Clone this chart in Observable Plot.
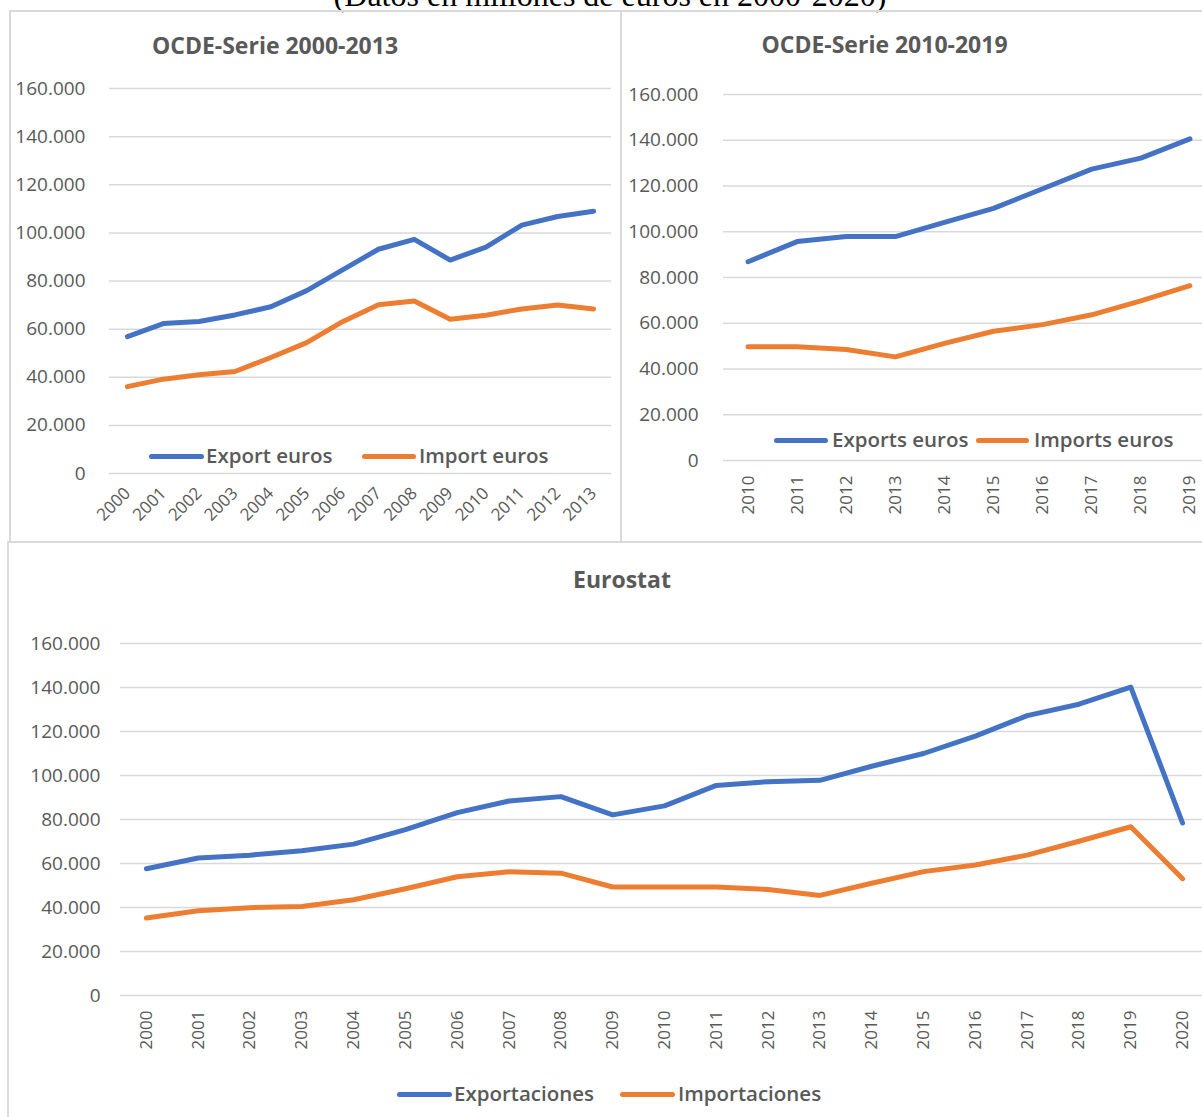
<!DOCTYPE html>
<html><head><meta charset="utf-8">
<script src="https://cdn.jsdelivr.net/npm/d3@7"></script>
<script src="https://cdn.jsdelivr.net/npm/@observablehq/plot@0.6"></script>
<style>
html,body{margin:0;padding:0;background:#fff;overflow:hidden;}
#page{position:relative;width:1202px;height:1117px;overflow:hidden;font-family:"Open Sans",sans-serif;}
.panel{position:absolute;border:2px solid #d9d9d9;box-sizing:border-box;}
.abs{position:absolute;}
.title{position:absolute;font-weight:700;font-size:23px;line-height:30px;color:#595959;transform:translateX(-50%);white-space:nowrap;}
.leg-line{position:absolute;height:5px;border-radius:3px;}
.leg-text{position:absolute;font-size:20.5px;line-height:24px;font-weight:600;color:#595959;white-space:nowrap;}
.heading{position:absolute;font-family:"Liberation Serif","Times New Roman",serif;font-size:32px;line-height:32px;color:#000;white-space:nowrap;transform:translateX(-50%);}
</style></head><body><div id="page"></div>
<script>
// ---- data ----
const heading = "(Datos en millones de euros en 2000-2020)";
const yTicks = [0, 20000, 40000, 60000, 80000, 100000, 120000, 140000, 160000];

const title1 = "OCDE-Serie 2000-2013";
const years1 = [2000, 2001, 2002, 2003, 2004, 2005, 2006, 2007, 2008, 2009, 2010, 2011, 2012, 2013];
const export1 = [56900, 62300, 63200, 65900, 69300, 76000, 84600, 93200, 97300, 88700, 94100, 103200, 106800, 109000];
const import1 = [36100, 39200, 41000, 42400, 48200, 54400, 63100, 70100, 71700, 64100, 65800, 68400, 70000, 68400];
const names1 = ["Export euros", "Import euros"];

const title2 = "OCDE-Serie 2010-2019";
const years2 = [2010, 2011, 2012, 2013, 2014, 2015, 2016, 2017, 2018, 2019];
const export2 = [86900, 95700, 97900, 97900, 104100, 110200, 118800, 127400, 132200, 140600];
const import2 = [49700, 49700, 48500, 45300, 51200, 56500, 59400, 63700, 69800, 76400];
const names2 = ["Exports euros", "Imports euros"];

const title3 = "Eurostat";
const years3 = [2000, 2001, 2002, 2003, 2004, 2005, 2006, 2007, 2008, 2009, 2010, 2011, 2012, 2013, 2014, 2015, 2016, 2017, 2018, 2019, 2020];
const export3 = [57600, 62500, 63800, 65800, 68800, 75400, 83100, 88400, 90400, 82100, 86200, 95500, 97200, 97800, 104200, 110000, 117900, 127200, 132400, 140200, 78400];
const import3 = [35200, 38500, 39900, 40500, 43500, 48500, 54000, 56300, 55600, 49300, 49300, 49300, 48200, 45500, 51000, 56300, 59300, 63800, 70100, 76700, 53100];
const names3 = ["Exportaciones", "Importaciones"];

const colors = ["#4472C4", "#ED7D31"];

// ---- helpers ----
const page = document.getElementById("page");
const fmt = d => d3.format(",")(d).replace(/,/g, ".");

function el(cls, css, text) {
  const e = document.createElement("div");
  e.className = cls;
  Object.assign(e.style, css);
  if (text != null) e.textContent = text;
  page.appendChild(e);
  return e;
}

function chart(o) {
  const data = o.years.flatMap((y, i) => [
    {year: String(y), value: o.exp[i], s: o.names[0]},
    {year: String(y), value: o.imp[i], s: o.names[1]}
  ]);
  return Plot.plot({
    width: o.width, height: o.height,
    marginLeft: o.marginLeft, marginRight: 0, marginTop: o.marginTop, marginBottom: o.marginBottom,
    style: {background: "transparent", maxWidth: "none", overflow: "visible", fontFamily: "'Open Sans', sans-serif", color: "#595959"},
    x: {type: "point", domain: o.years.map(String), padding: 0.5, round: false},
    y: {domain: [0, 160000]},
    color: {domain: o.names, range: colors},
    marks: [
      Plot.gridY(yTicks, {stroke: "#d9d9d9", strokeOpacity: 1, strokeWidth: 1.5}),
      Plot.axisY(yTicks, {tickSize: 0, tickPadding: o.padY, tickFormat: fmt, fontSize: 19, fill: "#595959", label: null}),
      Plot.axisX({tickSize: 0, tickRotate: o.rotate, tickPadding: o.padX, fontSize: 17, fill: "#595959", label: null, textAnchor: "end"}),
      Plot.line(data, {x: "year", y: "value", z: "s", stroke: "s", strokeWidth: 5, strokeLinecap: "round", strokeLinejoin: "round"})
    ]
  });
}

function place(svg, left, top) {
  const d = el("abs", {left: left + "px", top: top + "px"});
  d.appendChild(svg);
}

function legend(y, items) {
  items.forEach((it, i) => {
    el("leg-line", {left: it.x1 + "px", width: (it.x2 - it.x1) + "px", top: (y - 2.5) + "px", background: colors[i]});
    el("leg-text", {left: it.tx + "px", top: (y - 12.7) + "px"}, it.label);
  });
}

// ---- heading ----
el("heading", {left: "610px", top: "-21px"}, heading);

// ---- panel frames ----
el("panel", {left: "9px", top: "10px", width: "613px", height: "533px"});
el("panel", {left: "620px", top: "10px", width: "600px", height: "533px"});
el("panel", {left: "7px", top: "541px", width: "1210px", height: "600px"});

// ---- panel 1 ----
place(chart({years: years1, exp: export1, imp: import1, names: names1,
  width: 611, height: 543, marginLeft: 109, marginTop: 88, marginBottom: 70,
  rotate: -45, padX: 17, padY: 24}), 0, 0);
el("title", {left: "275px", top: "29.5px"}, title1);
legend(456, [
  {x1: 149, x2: 204, tx: 206, label: names1[0]},
  {x1: 362, x2: 416, tx: 419, label: names1[1]}
]);

// ---- panel 2 ----
place(chart({years: years2, exp: export2, imp: import2, names: names2,
  width: 594, height: 540, marginLeft: 103, marginTop: 94, marginBottom: 80,
  rotate: -90, padX: 15, padY: 25}), 620, 0);
el("title", {left: "884.5px", top: "28.5px"}, title2);
legend(440, [
  {x1: 774, x2: 828, tx: 832, label: names2[0]},
  {x1: 976, x2: 1029, tx: 1034, label: names2[1]}
]);

// ---- panel 3 ----
place(chart({years: years3, exp: export3, imp: import3, names: names3,
  width: 1208, height: 534, marginLeft: 120, marginTop: 102, marginBottom: 80,
  rotate: -90, padX: 15, padY: 20}), 0, 541);
el("title", {left: "622px", top: "563.5px"}, title3);
legend(1094, [
  {x1: 397, x2: 452, tx: 454, label: names3[0]},
  {x1: 620, x2: 675, tx: 678, label: names3[1]}
]);
</script>
</body></html>
